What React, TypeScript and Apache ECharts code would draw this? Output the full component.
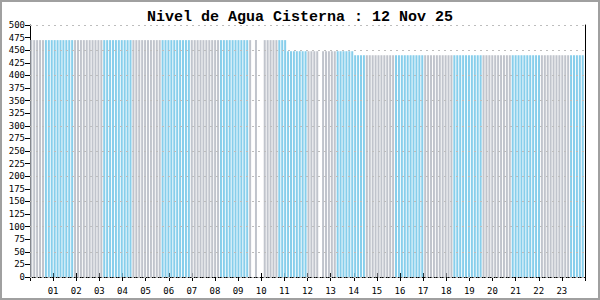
import React, { useEffect, useRef } from "react";
import * as echarts from "echarts";

const titleText = "Nivel de Agua Cisterna : 12 Nov 25";

const hourLabels = [
  "01", "02", "03", "04", "05", "06", "07", "08", "09", "10", "11", "12",
  "13", "14", "15", "16", "17", "18", "19", "20", "21", "22", "23",
];

// sensor sampling grid (minutes after midnight)
const sampleStartMin = 3.4;
const sampleStepMin = 7.57;

// level readings, one per sample (null = missing reading)
const levels: (number | null)[] = [
  470, 470, 470, 470, 470, 470, 470, 470, 470, 470,
  470, 470, 470, 470, 470, 470, 470, 470, 470, 470,
  470, 470, 470, 470, 470, 470, 470, 470, 470, 470,
  470, 470, 470, 470, 470, 470, 470, 470, 470, 470,
  470, 470, 470, 470, 470, 470, 470, 470, 470, 470,
  470, 470, 470, 470, 470, 470, 470, 470, 470, 470,
  470, 470, 470, 470, 470, 470, 470, 470, 470, 470,
  470, 470, 470, 470, 470, 470, null, 470, null, null,
  470, 470, 470, 470, 470, 470, 470, 470, 448, 448,
  448, 448, 448, 448, 448, 448, 448, 448, 448, null,
  448, 448, 448, 448, 448, 448, 448, 448, 448, 448,
  448, 440, 440, 440, 440, 440, 440, 440, 440, 440,
  440, 440, 440, 440, 440, 440, 440, 440, 440, 440,
  440, 440, 440, 440, 440, 440, 440, 440, 440, 440,
  440, 440, 440, 440, 440, 440, 440, 440, 440, 440,
  440, 440, 440, 440, 440, 440, 440, 440, 440, 440,
  440, 440, 440, 440, 440, 440, 440, 440, 440, 440,
  440, 440, 440, 440, 440, 440, 440, 440, 440, 440,
  440, 440, 440, 440, 440, 440, 440, 440, 440, 440,
];

const barColors = ["#c0c4cc", "#87ceeb"];
const groupSize = 10;
const groupOffset = 5;

const labelFont = "DejaVu Sans Mono";

export default function App() {
  const ref = useRef<HTMLDivElement>(null);

  useEffect(() => {
    if (!ref.current) return;
    const chart = echarts.init(ref.current, undefined, { renderer: "svg" });

    const data: any[] = [];
    levels.forEach((v, i) => {
      if (v === null) return;
      const color = barColors[Math.floor((i + groupOffset) / groupSize) % 2];
      data.push({
        value: [sampleStartMin + i * sampleStepMin, v],
        itemStyle: { color },
      });
    });

    const xBase = {
      type: "value",
      min: 0,
      max: 1440,
      interval: 60,
      position: "bottom",
      splitLine: { show: false },
    };

    chart.setOption({
      animation: false,
      backgroundColor: "#ffffff",
      title: {
        text: titleText,
        left: "center",
        top: 5,
        textStyle: {
          fontFamily: "Liberation Mono",
          fontWeight: "bold",
          fontSize: 15,
          color: "#000",
        },
      },
      graphic: [
        {
          type: "rect",
          shape: { x: 1, y: 1, width: 598, height: 298 },
          style: { fill: "none", stroke: "#a0a0a0", lineWidth: 2 },
          silent: true,
        },
      ],
      grid: { left: 30, right: 15, top: 25, bottom: 23 },
      xAxis: [
        {
          ...xBase,
          axisLine: { show: true, lineStyle: { color: "#000", type: [1, 1], width: 1 } },
          axisTick: { show: true, length: 4, lineStyle: { color: "#000" } },
          axisLabel: {
            show: true,
            margin: 9,
            fontSize: 9,
            fontFamily: labelFont,
            color: "#000",
            formatter: (v: number) => {
              const h = Math.round(v / 60);
              return h >= 1 && h <= hourLabels.length ? hourLabels[h - 1] : "";
            },
          },
        },
        {
          ...xBase,
          axisLine: { show: false },
          axisTick: { show: true, inside: true, length: 4, lineStyle: { color: "#000" } },
          axisLabel: { show: false },
        },
      ],
      yAxis: [
        {
          type: "value",
          min: 0,
          max: 500,
          interval: 25,
          position: "left",
          axisLine: { show: true, lineStyle: { color: "#000", width: 1 } },
          axisTick: { show: true, length: 5, lineStyle: { color: "#000" } },
          axisLabel: {
            margin: 5,
            fontSize: 9,
            fontFamily: labelFont,
            color: "#000",
          },
          splitLine: { show: false },
        },
        {
          type: "value",
          min: 0,
          max: 500,
          interval: 50,
          position: "left",
          z: 5,
          axisLine: { show: false },
          axisTick: { show: false },
          axisLabel: { show: false },
          splitLine: { show: true, lineStyle: { color: "#bdbdbd", type: [2, 4], width: 1 } },
        },
        {
          type: "value",
          min: 0,
          max: 500,
          interval: 50,
          position: "right",
          z: 5,
          axisLine: { show: true, lineStyle: { color: "#000", width: 1 } },
          axisTick: { show: false },
          axisLabel: { show: false },
          splitLine: { show: false },
        },
      ],
      series: [
        {
          type: "bar",
          xAxisIndex: 0,
          yAxisIndex: 0,
          barWidth: 2,
          data,
        },
      ],
    });

    return () => chart.dispose();
  }, []);

  return (
    <div
      ref={ref}
      style={{ position: "fixed", left: 0, top: 0, width: 600, height: 300 }}
    />
  );
}
